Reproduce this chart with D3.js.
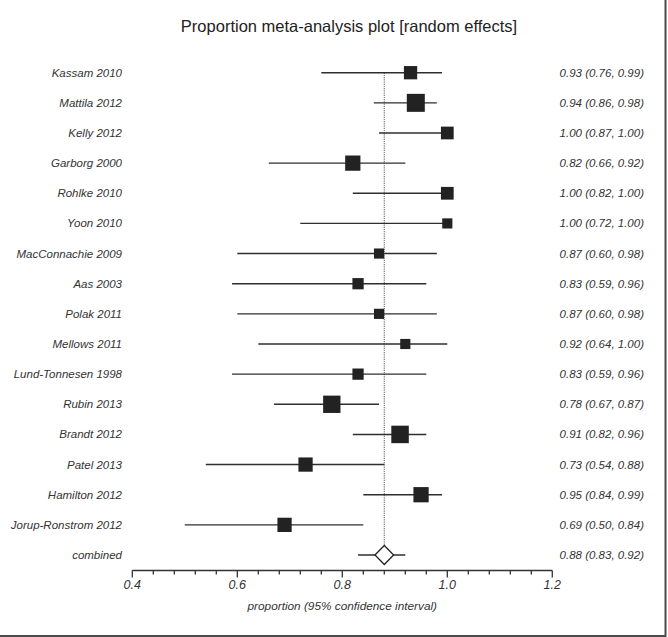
<!DOCTYPE html>
<html>
<head>
<meta charset="utf-8">
<script src="https://cdn.jsdelivr.net/npm/d3@7"></script>
<style>
  body { margin: 0; background: #fff; }
  svg text { font-family: "Liberation Sans", Arial, sans-serif; }
</style>
</head>
<body>
<div id="forest"></div>
<script>
// Study names, estimates and 95% CI
var studies = [
  "Kassam 2010", "Mattila 2012", "Kelly 2012", "Garborg 2000", "Rohlke 2010",
  "Yoon 2010", "MacConnachie 2009", "Aas 2003", "Polak 2011", "Mellows 2011",
  "Lund-Tonnesen 1998", "Rubin 2013", "Brandt 2012", "Patel 2013",
  "Hamilton 2012", "Jorup-Ronstrom 2012"
];
var estimates = [0.93, 0.94, 1.00, 0.82, 1.00, 1.00, 0.87, 0.83, 0.87, 0.92, 0.83, 0.78, 0.91, 0.73, 0.95, 0.69];
var lower = [0.76, 0.86, 0.87, 0.66, 0.82, 0.72, 0.60, 0.59, 0.60, 0.64, 0.59, 0.67, 0.82, 0.54, 0.84, 0.50];
var upper = [0.99, 0.98, 1.00, 0.92, 1.00, 1.00, 0.98, 0.96, 0.98, 1.00, 0.96, 0.87, 0.96, 0.88, 0.99, 0.84];
// study weights (%)
var weights = [6.0, 11.0, 5.5, 7.9, 5.5, 3.5, 3.5, 4.3, 3.5, 3.5, 4.3, 10.2, 10.4, 6.9, 7.9, 6.9];

// pooled estimate
var combined = { label: "combined", est: 0.88, lo: 0.83, hi: 0.92 };

var tickValues = [0.4, 0.6, 0.8, 1.0, 1.2];

var width = 668, height = 637;

var svg = d3.select("#forest").append("svg")
  .attr("width", width)
  .attr("height", height);

var x = d3.scaleLinear().domain([0.4, 1.2]).range([132.3, 552.3]);

var rows = studies.concat([combined.label]);
var y = d3.scalePoint().domain(rows).range([72.7, 555]);

var size = d3.scaleSqrt().domain([0, d3.max(weights)]).range([0, 18]);

var fmt = d3.format(".2f");

var data = studies.map(function (s, i) {
  return { label: s, est: estimates[i], lo: lower[i], hi: upper[i], w: weights[i] };
});

// frame (right and bottom edges)
svg.append("path")
  .attr("d", "M0,636 H665.5 V0")
  .attr("fill", "none")
  .attr("stroke", "#4a4a4a")
  .attr("stroke-width", 2);

// title
svg.append("text")
  .attr("x", 349)
  .attr("y", 32)
  .attr("text-anchor", "middle")
  .style("font-size", "16.5px")
  .attr("fill", "#222")
  .text("Proportion meta-analysis plot [random effects]");

// reference line at pooled estimate
svg.append("line")
  .attr("x1", x(combined.est)).attr("x2", x(combined.est))
  .attr("y1", y(studies[0])).attr("y2", y(combined.label) - 9.5)
  .attr("stroke", "#777")
  .attr("stroke-width", 1.2)
  .attr("stroke-dasharray", "1.2,1");

// CI lines
svg.selectAll(".ci")
  .data(data)
  .enter()
  .append("line")
  .attr("x1", function (d) { return x(d.lo); })
  .attr("x2", function (d) { return x(d.hi); })
  .attr("y1", function (d) { return y(d.label); })
  .attr("y2", function (d) { return y(d.label); })
  .attr("stroke", "#2e2e2e")
  .attr("stroke-width", 1.4);

// weight squares
svg.selectAll(".sq")
  .data(data)
  .enter()
  .append("rect")
  .attr("x", function (d) { return x(d.est) - size(d.w) / 2; })
  .attr("y", function (d) { return y(d.label) - size(d.w) / 2; })
  .attr("width", function (d) { return size(d.w); })
  .attr("height", function (d) { return size(d.w); })
  .attr("fill", "#222");

// combined: CI line and diamond
var cy = y(combined.label);
svg.append("line")
  .attr("x1", x(combined.lo)).attr("x2", x(combined.hi))
  .attr("y1", cy).attr("y2", cy)
  .attr("stroke", "#2e2e2e")
  .attr("stroke-width", 1.4);

var cx = x(combined.est);
svg.append("path")
  .attr("d", "M" + (cx - 9.3) + "," + cy + " L" + cx + "," + (cy - 9.5) +
    " L" + (cx + 9.3) + "," + cy + " L" + cx + "," + (cy + 9.5) + " Z")
  .attr("fill", "#fff")
  .attr("stroke", "#222")
  .attr("stroke-width", 1.3);

// left labels
svg.selectAll(".lab")
  .data(rows)
  .enter()
  .append("text")
  .attr("x", 122)
  .attr("y", function (d) { return y(d) + 4; })
  .attr("text-anchor", "end")
  .style("font-size", "11.5px")
  .style("font-style", "italic")
  .attr("fill", "#333")
  .text(function (d) { return d; });

// right labels
var rightRows = data.concat([combined]);
svg.selectAll(".val")
  .data(rightRows)
  .enter()
  .append("text")
  .attr("x", 644)
  .attr("y", function (d) { return y(d.label) + 4; })
  .attr("text-anchor", "end")
  .style("font-size", "11.5px")
  .style("font-style", "italic")
  .attr("fill", "#333")
  .text(function (d) { return fmt(d.est) + " (" + fmt(d.lo) + ", " + fmt(d.hi) + ")"; });

// x axis
var axisY = 570.5;
var minorTicks = d3.range(0.4, 1.2001, 0.04);
var axisG = svg.append("g");

axisG.append("line")
  .attr("x1", x(0.4)).attr("x2", x(1.2))
  .attr("y1", axisY).attr("y2", axisY)
  .attr("stroke", "#333")
  .attr("stroke-width", 1.3);

axisG.selectAll(".minor")
  .data(minorTicks)
  .enter()
  .append("line")
  .attr("x1", function (d) { return x(d); })
  .attr("x2", function (d) { return x(d); })
  .attr("y1", axisY)
  .attr("y2", function (d) {
    var major = tickValues.some(function (t) { return Math.abs(t - d) < 1e-6; });
    return axisY + (major ? 7 : 4);
  })
  .attr("stroke", "#333")
  .attr("stroke-width", 1.3);

axisG.selectAll(".tl")
  .data(tickValues)
  .enter()
  .append("text")
  .attr("x", function (d) { return x(d); })
  .attr("y", 589)
  .attr("text-anchor", "middle")
  .style("font-size", "12.5px")
  .style("font-style", "italic")
  .attr("fill", "#333")
  .text(function (d) { return d3.format(".1f")(d); });

svg.append("text")
  .attr("x", x(0.8))
  .attr("y", 610)
  .attr("text-anchor", "middle")
  .style("font-size", "11.8px")
  .style("font-style", "italic")
  .attr("fill", "#333")
  .text("proportion (95% confidence interval)");
</script>
</body>
</html>
